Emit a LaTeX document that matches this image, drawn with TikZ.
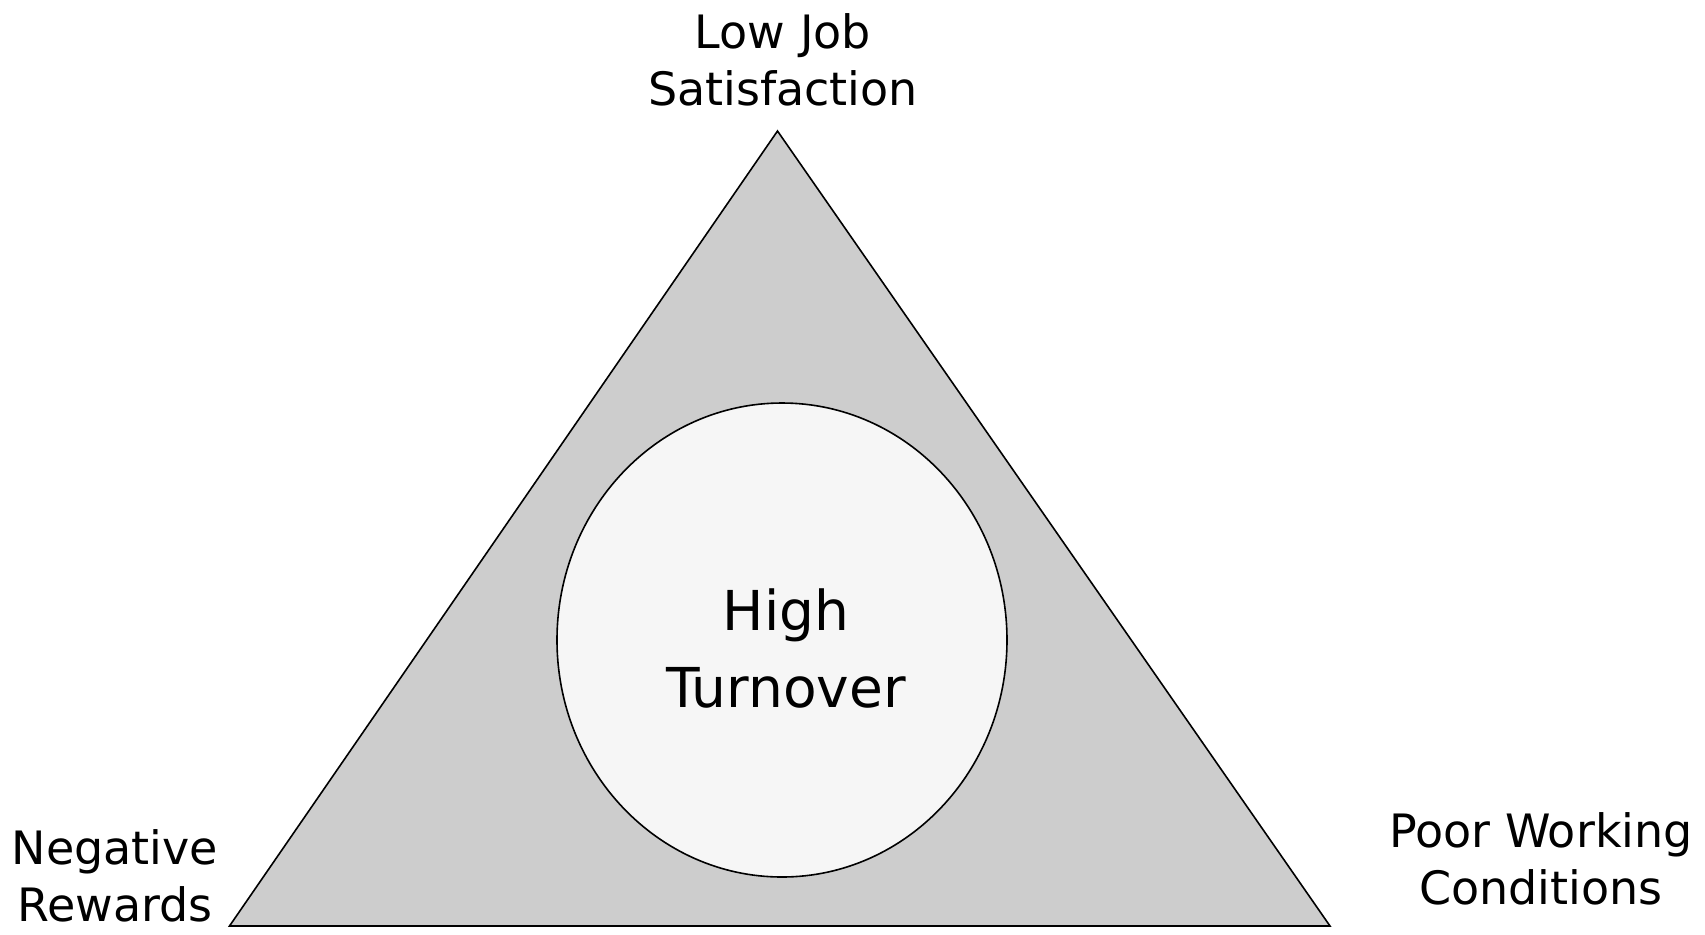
\documentclass[tikz,border=0pt]{standalone}
\usepackage{fontspec}
\usetikzlibrary{shapes.geometric}
\setmainfont{DejaVu Sans}
\definecolor{trigray}{HTML}{CDCDCD}
\definecolor{circfill}{HTML}{F6F6F6}
\begin{document}
\begin{tikzpicture}[x=0.5pt,y=-0.5pt,
  lbl/.style={align=center,inner sep=0pt,font=\fontsize{23}{28.5}\selectfont},
  centre/.style={align=center,inner sep=0pt,font=\fontsize{27.5}{38.5}\selectfont},
  shape line/.style={draw=black,line width=0.8pt}]
\useasboundingbox (0,0) rectangle (1705,934);
\fill[white] (0,0) rectangle (1705,934);
\coordinate (apex) at (777.5,131);
\coordinate (bl) at (229.5,926);
\coordinate (br) at (1330,926);
\filldraw[shape line,fill=trigray,line join=miter] (apex) -- (bl) -- (br) -- cycle;
\node[shape line,fill=circfill,ellipse,inner sep=0pt,minimum width=225pt,minimum height=237pt] (circ) at (782,640) {};
\node[centre] (ht) at (786,648) {High\\Turnover};
\node[lbl] (ljs) at (783,60) {Low Job\\Satisfaction};
\node[lbl] (nr) at (115,876) {Negative\\Rewards};
\node[lbl] (pwc) at (1541,859) {Poor Working\\Conditions};
\end{tikzpicture}
\end{document}
